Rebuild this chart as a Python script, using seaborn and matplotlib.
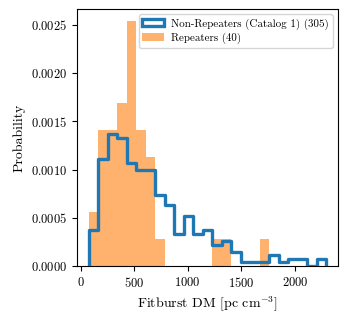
import numpy as np
import pandas as pd
import matplotlib
matplotlib.use("Agg")
from matplotlib import pyplot as plt
from matplotlib.patches import Patch
import seaborn as sns

# bins shared by both samples (DM, pc cm^-3)
dm_lo, dm_hi, n_bins = 77.0, 2293.0, 25
edges = np.linspace(dm_lo, dm_hi, n_bins + 1)
centers = 0.5 * (edges[:-1] + edges[1:])

# counts per bin
nonrep_counts = [10, 30, 37, 36, 29, 27, 27, 20, 17, 9, 14, 9, 10,
                 6, 7, 4, 1, 1, 1, 3, 1, 2, 2, 0, 2]
rep_counts = [2, 5, 5, 6, 9, 5, 4, 1, 0, 0, 0, 0, 0,
              1, 1, 0, 0, 0, 1, 0, 0, 0, 0, 0, 0]

df = pd.DataFrame({"dm": centers, "nonrep": nonrep_counts, "rep": rep_counts})

plt.rcParams["font.family"] = "serif"
plt.rcParams["font.serif"] = ["cmr10", "DejaVu Serif"]
plt.rcParams["mathtext.fontset"] = "cm"
plt.rcParams["axes.formatter.use_mathtext"] = True
plt.rcParams["font.size"] = 9

fig, ax = plt.subplots(figsize=(3.5, 3.19), dpi=100)
plt.subplots_adjust(left=0.22, right=0.966, top=0.972, bottom=0.166)

# seaborn compares bins to "auto", so hand it a plain list
bin_list = list(edges)
sns.histplot(data=df, x="dm", weights="rep", bins=bin_list, stat="density",
             color="C1", alpha=0.6, linewidth=0, ax=ax)
sns.histplot(data=df, x="dm", weights="nonrep", bins=bin_list, stat="density",
             element="step", fill=False, color="C0", linewidth=2.4, ax=ax,
             zorder=3)

# close the step outline down to zero at both ends, like histtype='step'
line = ax.lines[-1]
xs, ys = line.get_data()
line.set_data(np.r_[xs[0], xs, xs[-1]], np.r_[0, ys, 0])

handles = [Patch(facecolor="none", edgecolor="C0", linewidth=2.4),
           Patch(facecolor="C1", alpha=0.6, linewidth=0)]
ax.legend(handles, ["Non-Repeaters (Catalog 1) (305)", "Repeaters (40)"],
          loc="upper right", fontsize=7.9, borderpad=0.35,
          handletextpad=0.6, labelspacing=0.3)

ax.set_xlabel(r"Fitburst DM [pc cm$^{-3}$]", fontsize=10)
ax.set_ylabel("Probability", fontsize=10)
ax.set_xticks([0, 500, 1000, 1500, 2000])

fig.savefig("out.png", dpi=100)
